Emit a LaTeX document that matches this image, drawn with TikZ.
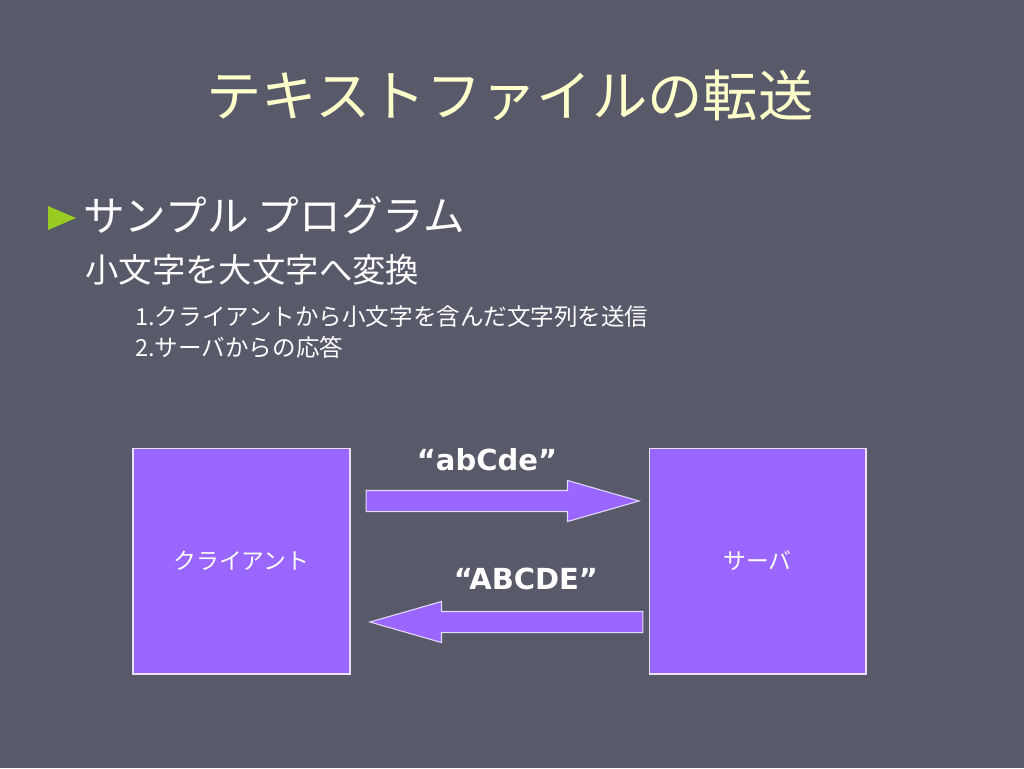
\documentclass[tikz,border=0pt]{standalone}
\usepackage{fontspec}
\setmainfont{Noto Sans CJK JP}
\newfontfamily\quotefont{DejaVu Sans}
\usetikzlibrary{shapes.arrows}

\definecolor{slidebg}{HTML}{585A6A}
\definecolor{titleyellow}{HTML}{FFFFCC}
\definecolor{boxviolet}{HTML}{9966FF}
\definecolor{bulletgreen}{HTML}{99CC22}

\begin{document}
\begin{tikzpicture}[x=0.02cm, y=-0.02cm,
  hostbox/.style={draw=white!80!boxviolet, line width=0.6pt, fill=boxviolet,
    minimum width=4.34cm, minimum height=4.52cm, inner sep=0pt,
    text=white, font=\fontsize{13}{15}\selectfont},
  blockarrow/.style={single arrow, draw=white!75!boxviolet, line width=0.6pt,
    fill=boxviolet, minimum height=5.46cm, minimum width=0.8cm,
    inner xsep=0pt, inner ysep=0.2cm, single arrow head extend=0.2cm,
    single arrow tip angle=32},
  msg/.style={text=white, inner sep=0pt,
    font=\quotefont\bfseries\fontsize{16.5}{19}\selectfont}]

% ======================
% Slide background
% ======================
\fill[slidebg] (0,0) rectangle (1024,768);

% ======================
% Title and bullet text
% ======================
\node[titleyellow, font=\fontsize{31.5}{36}\selectfont] (title) at (510,95)
  {テキストファイルの転送};

\fill[bulletgreen] (48,206) -- (48,230) -- (76,218) -- cycle;
\node[white, anchor=west, inner sep=0pt, font=\fontsize{23.7}{28}\selectfont]
  (topic) at (83,215) {サンプル プログラム};
\node[white, anchor=west, inner sep=0pt, font=\fontsize{19}{22}\selectfont]
  (subtopic) at (85,270) {小文字を大文字へ変換};
\node[white, anchor=north west, inner sep=0pt, align=left,
  font=\fontsize{13.4}{17.6}\selectfont] (steps) at (135,305)
  {1.クライアントから小文字を含んだ文字列を送信\\2.サーバからの応答};

% ======================
% Client and server
% ======================
\node[hostbox] (client) at (241.5,561) {クライアント};
\node[hostbox] (server) at (757.5,561) {サーバ};

% ======================
% Request and reply
% ======================
\node[blockarrow, anchor=tip] (sendarrow) at (641,501) {};
\node[msg] (sendlabel) at (487,460) {“abCde”};

\node[blockarrow, shape border rotate=180, anchor=tip] (replyarrow) at (368,622) {};
\node[msg] (replylabel) at (526,579) {“ABCDE”};

\end{tikzpicture}
\end{document}
